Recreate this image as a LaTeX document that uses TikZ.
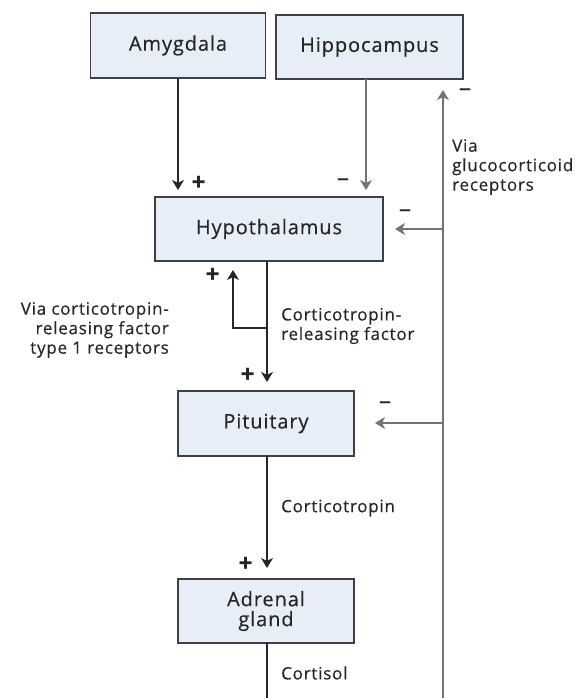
\documentclass[tikz,border=0pt]{standalone}
\usepackage{fontspec}
\setmainfont{Open Sans}[FakeBold=0.4,LetterSpace=4.5]
\usetikzlibrary{arrows.meta}
\definecolor{boxfill}{HTML}{E7EEF7}
\definecolor{boxline}{HTML}{404040}
\definecolor{txt}{HTML}{262626}
\begin{document}
\begin{tikzpicture}[x=1pt,y=-1pt,
  organ/.style={draw=boxline,line width=1.1pt,fill=boxfill,text=txt,font=\fontsize{20}{20}\selectfont,align=center,inner sep=0pt},
  lab/.style={text=txt,font=\fontsize{17}{19.5}\selectfont,inner sep=0pt},
  sgn/.style={text=txt,font=\fontsize{24}{24}\selectfont,inner sep=0pt},
  conn/.style={line width=1.1pt,draw=black!85,-{Stealth[length=10pt,width=12pt,inset=3pt]}},
  gconn/.style={line width=1.1pt,draw=black!55,-{Stealth[length=10pt,width=12pt,inset=3pt]}},
  plainline/.style={line width=1.1pt,draw=black!85},
  gline/.style={line width=1.1pt,draw=black!55}]
\useasboundingbox (0,0) rectangle (580,698);
\node[organ,minimum width=175pt,minimum height=65pt] (amy) at (178,45.5) {Amygdala};
\node[organ,minimum width=187pt,minimum height=64pt] (hip) at (369.5,47) {Hippocampus};
\node[organ,minimum width=228pt,minimum height=64pt] (hyp) at (269,229) {Hypothalamus};
\node[organ,minimum width=176pt,minimum height=65pt] (pit) at (266,423.5) {Pituitary};
\node[organ,minimum width=176pt,minimum height=64pt] (adr) at (266,611) {Adrenal\\gland};
% coordinates
\coordinate (amyIn) at (178,190);
\coordinate (hipOut) at (366,79);
\coordinate (hipIn) at (366,190);
\coordinate (hypOut) at (267,261);
\coordinate (br) at (267,328);
\coordinate (brC) at (233,328);
\coordinate (brT) at (233,270);
\coordinate (pitIn) at (267,382);
\coordinate (pitOut) at (267,456);
\coordinate (adrIn) at (267,568);
\coordinate (adrOut) at (267,643);
\coordinate (cortEnd) at (267,698);
\coordinate (fbB) at (443,698);
\coordinate (fbT) at (443,90);
\coordinate (fbH) at (443,229);
\coordinate (hypIn) at (395,229);
\coordinate (fbP) at (443,423);
\coordinate (pitSide) at (375,423);
% connectors
\draw[conn] (amy.south -| amyIn) -- (amyIn);
\draw[gconn] (hipOut) -- (hipIn);
\draw[conn] (hypOut) -- (pitIn);
\draw[conn] (br) -- (brC) -- (brT);
\draw[conn] (pitOut) -- (adrIn);
\draw[plainline] (adrOut) -- (cortEnd);
\draw[gconn] (fbB) -- (fbT);
\draw[gconn] (fbH) -- (hypIn);
\draw[gconn] (fbP) -- (pitSide);
% signs
\node[sgn] (s1) at (199,183) {\textbf{+}};
\node[sgn] (s2) at (343,182) {\textendash};
\node[sgn] (s3) at (213,275) {\textbf{+}};
\node[sgn] (s4) at (248,375) {\textbf{+}};
\node[sgn] (s5) at (246,564) {\textbf{+}};
\node[sgn] (s6) at (405,213) {\textendash};
\node[sgn] (s7) at (385,405) {\textendash};
\node[sgn] (s8) at (465,92) {\textendash};
% labels
\node[lab,align=right,anchor=east] (l1) at (169,330) {Via corticotropin-\\releasing factor\\type 1 receptors};
\node[lab,align=left,anchor=west] (l2) at (281,326) {Corticotropin-\\releasing factor};
\node[lab,anchor=west] (l3) at (281,508) {Corticotropin};
\node[lab,anchor=west] (l4) at (281,673) {Cortisol};
\node[lab,align=left,anchor=west] (l5) at (452,167) {Via\\glucocorticoid\\receptors};
\end{tikzpicture}
\end{document}
